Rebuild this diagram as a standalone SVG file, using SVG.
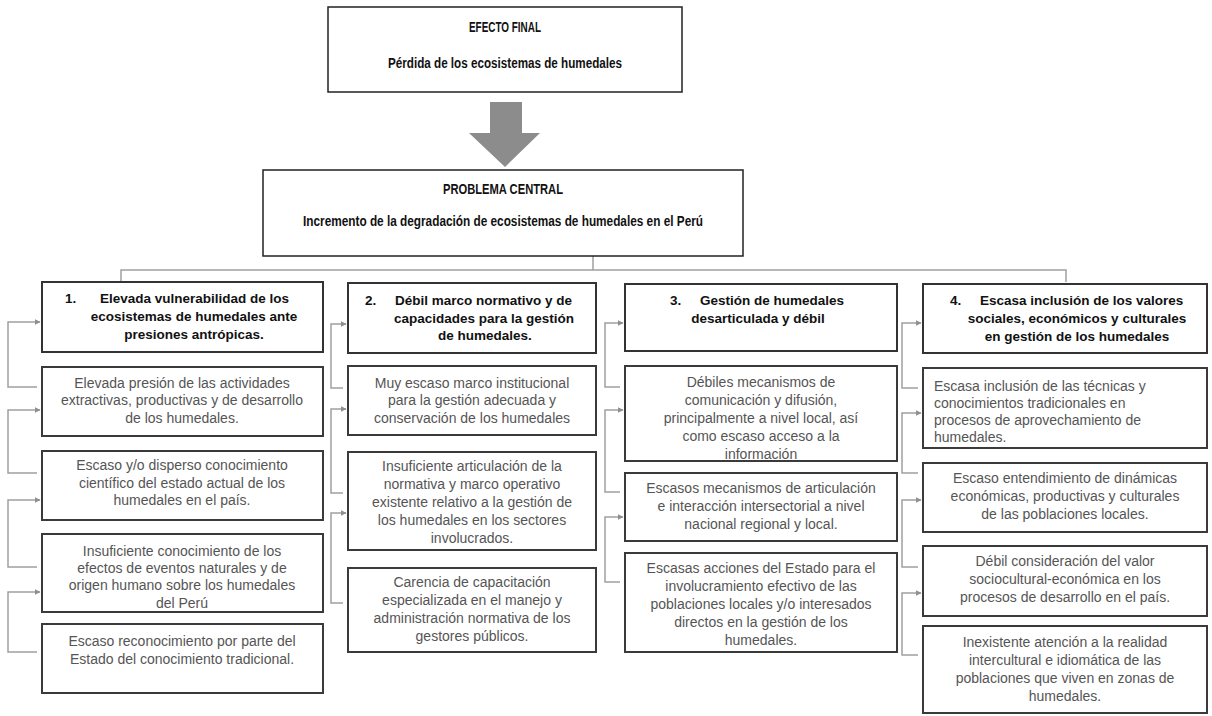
<svg xmlns="http://www.w3.org/2000/svg" width="1212" height="716" viewBox="0 0 1212 716">
<defs>
<marker id="ah" viewBox="0 0 10 10" refX="9" refY="5" markerWidth="6" markerHeight="6" markerUnits="userSpaceOnUse" orient="auto">
<path d="M0,0 L10,5 L0,10 z" fill="#8f8f8f"/>
</marker>
<style>
.top{fill:#fff;stroke:#222;stroke-width:1.5}
.hd{fill:#fff;stroke:#333;stroke-width:2}
.bx{fill:#fff;stroke:#3a3a3a;stroke-width:2}
.tt{font-family:"Liberation Sans",Arial,sans-serif;font-weight:bold;font-size:14px;fill:#111;text-anchor:middle}
.ht{font-family:"Liberation Sans",Arial,sans-serif;font-weight:bold;font-size:13.5px;fill:#111;text-anchor:middle}
.hn{font-family:"Liberation Sans",Arial,sans-serif;font-weight:bold;font-size:13.5px;fill:#111}
.it{font-family:"Liberation Sans",Arial,sans-serif;font-size:14px;fill:#555;text-anchor:middle}
.il{font-family:"Liberation Sans",Arial,sans-serif;font-size:14px;fill:#555}
.cn{fill:none;stroke:#a0a0a0;stroke-width:1.5}
</style>
</defs>
<rect width="1212" height="716" fill="#fff"/>

<g id="connectors">
<path class="cn" d="M593,256 V270 M121,282 V270 H1066 V282"/>
<path class="cn" d="M37,387 H8 V322 H40" marker-end="url(#ah)"/>
<path class="cn" d="M37,473 H8 V410 H40" marker-end="url(#ah)"/>
<path class="cn" d="M37,567 H8 V500 H40" marker-end="url(#ah)"/>
<path class="cn" d="M37,652 H8 V592 H40" marker-end="url(#ah)"/>
<path class="cn" d="M343,388 H331 V324 H346" marker-end="url(#ah)"/>
<path class="cn" d="M343,493 H331 V409 H346" marker-end="url(#ah)"/>
<path class="cn" d="M343,603 H331 V513 H346" marker-end="url(#ah)"/>
<path class="cn" d="M620,387 H605 V323 H623" marker-end="url(#ah)"/>
<path class="cn" d="M620,492 H605 V410 H623" marker-end="url(#ah)"/>
<path class="cn" d="M620,582 H605 V517 H623" marker-end="url(#ah)"/>
<path class="cn" d="M918,388 H902 V323 H921" marker-end="url(#ah)"/>
<path class="cn" d="M918,473 H902 V413 H921" marker-end="url(#ah)"/>
<path class="cn" d="M918,567 H902 V500 H921" marker-end="url(#ah)"/>
<path class="cn" d="M918,655 H902 V593 H921" marker-end="url(#ah)"/>
</g>

<g id="efecto-final">
<rect class="top" x="328" y="7" width="354" height="85"/>
<text class="tt" x="505" y="32" textLength="72" lengthAdjust="spacingAndGlyphs">EFECTO FINAL</text>
<text class="tt" x="505" y="68" textLength="234" lengthAdjust="spacingAndGlyphs">Pérdida de los ecosistemas de humedales</text>
</g>

<g id="flecha">
<polygon points="490,102 522,102 522,133 540,133 505,167 469,133 490,133" fill="#8c8c8c"/>
</g>

<g id="problema-central">
<rect class="top" x="263" y="170" width="480" height="86"/>
<text class="tt" x="503" y="194" textLength="120" lengthAdjust="spacingAndGlyphs">PROBLEMA CENTRAL</text>
<text class="tt" x="503" y="226" textLength="400" lengthAdjust="spacingAndGlyphs">Incremento de la degradación de ecosistemas de humedales en el Perú</text>
</g>

<g id="causa-1">
<rect class="hd" x="42" y="282" width="281" height="70"/>
<text class="hn" x="65" y="303">1.</text>
<text class="hn" x="100" y="303">Elevada vulnerabilidad de los</text>
<text class="ht" x="194" y="321">ecosistemas de humedales ante</text>
<text class="ht" x="194" y="339">presiones antrópicas.</text>
</g>
<g id="c1-1">
<rect class="bx" x="42" y="367" width="281" height="69"/>
<text class="it" x="182" y="388">Elevada presión de las actividades</text>
<text class="it" x="182" y="405">extractivas, productivas y de desarrollo</text>
<text class="it" x="182" y="423">de los humedales.</text>
</g>
<g id="c1-2">
<rect class="bx" x="42" y="451" width="281" height="69"/>
<text class="it" x="182" y="470">Escaso y/o disperso conocimiento</text>
<text class="it" x="182" y="488">científico del estado actual de los</text>
<text class="it" x="182" y="505">humedales en el país.</text>
</g>
<g id="c1-3">
<rect class="bx" x="42" y="534" width="281" height="78"/>
<text class="it" x="182" y="556">Insuficiente conocimiento de los</text>
<text class="it" x="182" y="573">efectos de eventos naturales y de</text>
<text class="it" x="182" y="590">origen humano sobre los humedales</text>
<text class="it" x="182" y="608">del Perú</text>
</g>
<g id="c1-4">
<rect class="bx" x="42" y="624" width="281" height="69"/>
<text class="it" x="182" y="646">Escaso reconocimiento por parte del</text>
<text class="it" x="182" y="664">Estado del conocimiento tradicional.</text>
</g>

<g id="causa-2">
<rect class="hd" x="348" y="283" width="248" height="70"/>
<text class="hn" x="365" y="305">2.</text>
<text class="hn" x="395" y="305">Débil marco normativo y de</text>
<text class="ht" x="484" y="323">capacidades para la gestión</text>
<text class="ht" x="485" y="340">de humedales.</text>
</g>
<g id="c2-1">
<rect class="bx" x="348" y="366" width="248" height="69"/>
<text class="it" x="472" y="388">Muy escaso marco institucional</text>
<text class="it" x="472" y="405">para la gestión adecuada y</text>
<text class="it" x="472" y="423">conservación de los humedales</text>
</g>
<g id="c2-2">
<rect class="bx" x="348" y="452" width="248" height="98"/>
<text class="it" x="472" y="471">Insuficiente articulación de la</text>
<text class="it" x="472" y="489">normativa y marco operativo</text>
<text class="it" x="472" y="507">existente relativo a la gestión de</text>
<text class="it" x="472" y="525">los humedales en los sectores</text>
<text class="it" x="472" y="543">involucrados.</text>
</g>
<g id="c2-3">
<rect class="bx" x="348" y="568" width="248" height="84"/>
<text class="it" x="472" y="587">Carencia de capacitación</text>
<text class="it" x="472" y="605">especializada en el manejo y</text>
<text class="it" x="472" y="623">administración normativa de los</text>
<text class="it" x="472" y="641">gestores públicos.</text>
</g>

<g id="causa-3">
<rect class="hd" x="625" y="284" width="272" height="67"/>
<text class="hn" x="670" y="305">3.</text>
<text class="hn" x="700" y="305">Gestión de humedales</text>
<text class="ht" x="758" y="323">desarticulada y débil</text>
</g>
<g id="c3-1">
<rect class="bx" x="625" y="366" width="272" height="95"/>
<text class="it" x="761" y="387">Débiles mecanismos de</text>
<text class="it" x="761" y="405">comunicación y difusión,</text>
<text class="it" x="761" y="423">principalmente a nivel local, así</text>
<text class="it" x="761" y="441">como escaso acceso a la</text>
<text class="it" x="761" y="459">información</text>
</g>
<g id="c3-2">
<rect class="bx" x="625" y="473" width="272" height="68"/>
<text class="it" x="761" y="493">Escasos mecanismos de articulación</text>
<text class="it" x="761" y="511">e interacción intersectorial a nivel</text>
<text class="it" x="761" y="529">nacional regional y local.</text>
</g>
<g id="c3-3">
<rect class="bx" x="625" y="553" width="272" height="99"/>
<text class="it" x="761" y="573">Escasas acciones del Estado para el</text>
<text class="it" x="761" y="591">involucramiento efectivo de las</text>
<text class="it" x="761" y="609">poblaciones locales y/o interesados</text>
<text class="it" x="761" y="627">directos en la gestión de los</text>
<text class="it" x="761" y="645">humedales.</text>
</g>

<g id="causa-4">
<rect class="hd" x="923" y="284" width="284" height="69"/>
<text class="hn" x="950" y="305">4.</text>
<text class="hn" x="980" y="305">Escasa inclusión de los valores</text>
<text class="ht" x="1077" y="323">sociales, económicos y culturales</text>
<text class="ht" x="1077" y="341">en gestión de los humedales</text>
</g>
<g id="c4-1">
<rect class="bx" x="923" y="368" width="284" height="80"/>
<text class="il" x="934" y="391">Escasa inclusión de las técnicas y</text>
<text class="il" x="934" y="408">conocimientos tradicionales en</text>
<text class="il" x="934" y="425">procesos de aprovechamiento de</text>
<text class="il" x="934" y="442">humedales.</text>
</g>
<g id="c4-2">
<rect class="bx" x="923" y="463" width="284" height="69"/>
<text class="it" x="1065" y="483">Escaso entendimiento de dinámicas</text>
<text class="it" x="1065" y="501">económicas, productivas y culturales</text>
<text class="it" x="1065" y="519">de las poblaciones locales.</text>
</g>
<g id="c4-3">
<rect class="bx" x="923" y="546" width="284" height="70"/>
<text class="it" x="1065" y="566">Débil consideración del valor</text>
<text class="it" x="1065" y="584">sociocultural-económica en los</text>
<text class="it" x="1065" y="602">procesos de desarrollo en el país.</text>
</g>
<g id="c4-4">
<rect class="bx" x="923" y="626" width="284" height="87"/>
<text class="it" x="1065" y="647">Inexistente atención a la realidad</text>
<text class="it" x="1065" y="665">intercultural e idiomática de las</text>
<text class="it" x="1065" y="683">poblaciones que viven en zonas de</text>
<text class="it" x="1065" y="701">humedales.</text>
</g>
</svg>
